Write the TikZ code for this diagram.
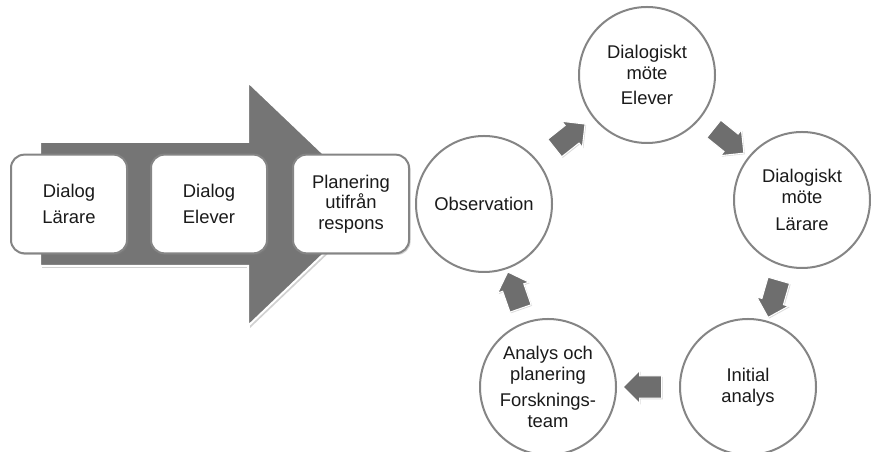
\documentclass[tikz,border=0pt]{standalone}
\usepackage{fontspec}
\setmainfont{Liberation Sans}
\usepackage{tikz}
\usetikzlibrary{shapes.arrows, positioning, shadows, backgrounds, calc}
\definecolor{flowgray}{HTML}{6E6E6E}
\definecolor{rimgray}{HTML}{858585}
\definecolor{inkgray}{HTML}{1A1A1A}
\tikzset{
  stagebox/.style={rectangle, rounded corners=10pt, draw=rimgray, line width=1.5pt, fill=white,
    text=inkgray, font=\fontsize{13.8}{15.5}\selectfont, minimum width=87pt, minimum height=74pt,
    align=center, inner sep=2pt,
    drop shadow={shadow xshift=1.2pt, shadow yshift=-1.2pt, opacity=0.35}},
  cyclenode/.style={circle, draw=rimgray, line width=1.5pt, fill=white,
    text=inkgray, font=\fontsize{13.8}{15.5}\selectfont, minimum size=102pt,
    align=center, inner sep=0pt},
  flowarrow/.style={single arrow, fill=flowgray, draw=white, line width=0.8pt,
    minimum height=29pt, minimum width=24pt, single arrow head extend=4pt,
    inner xsep=0pt, inner ysep=8pt, sloped, allow upside down, pos=0.5,
    drop shadow={shadow xshift=0.8pt, shadow yshift=-0.8pt, opacity=0.3}},
}

\begin{document}
\begin{tikzpicture}[x=0.75pt, y=0.75pt]
\useasboundingbox (0,0) rectangle (871,452);

%% ===== PROCESS STRIP =====
\node[stagebox] (DL) at (69,248) {Dialog\\[4.5pt]Lärare};
\node[stagebox, right=16.5pt of DL] (DE) {Dialog\\[4.5pt]Elever};
\node[stagebox, right=18pt of DE]   (PU) {Planering\\utifrån\\respons};

%% ===== CYCLE =====
\node[cyclenode] (OBS) at (484,248) {Observation};
\node[cyclenode] (DME) at (647,377) {Dialogiskt\\möte\\[3pt]Elever};
\node[cyclenode] (DML) at (802,252) {Dialogiskt\\möte\\[4.5pt]Lärare};
\node[cyclenode] (INA) at (748,65)  {Initial\\analys};
\node[cyclenode] (APF) at (548,65)  {Analys och\\planering\\[4pt]Forsknings-\\team};

% -- block arrows between the circles --
\path (OBS) -- node[flowarrow] (A1) {} (DME);
\path (DME) -- node[flowarrow] (A2) {} (DML);
\path (DML) -- node[flowarrow] (A3) {} (INA);
\path (INA) -- node[flowarrow] (A4) {} (APF);
\path (APF) -- node[flowarrow] (A5) {} (OBS);

\begin{scope}[on background layer]
  % big arrow behind the three boxes
  \fill[black, opacity=0.18, shift={(2,-2)}]
    (40,186) -- (40,310) -- (248,310) -- (248,370) -- (376,248) -- (248,126) -- (248,186) -- cycle;
  \filldraw[fill=flowgray!95!white, draw=white, line width=1.5pt]
    (40,186) -- (40,310) -- (248,310) -- (248,370) -- (376,248) -- (248,126) -- (248,186) -- cycle;
\end{scope}
\end{tikzpicture}
\end{document}
